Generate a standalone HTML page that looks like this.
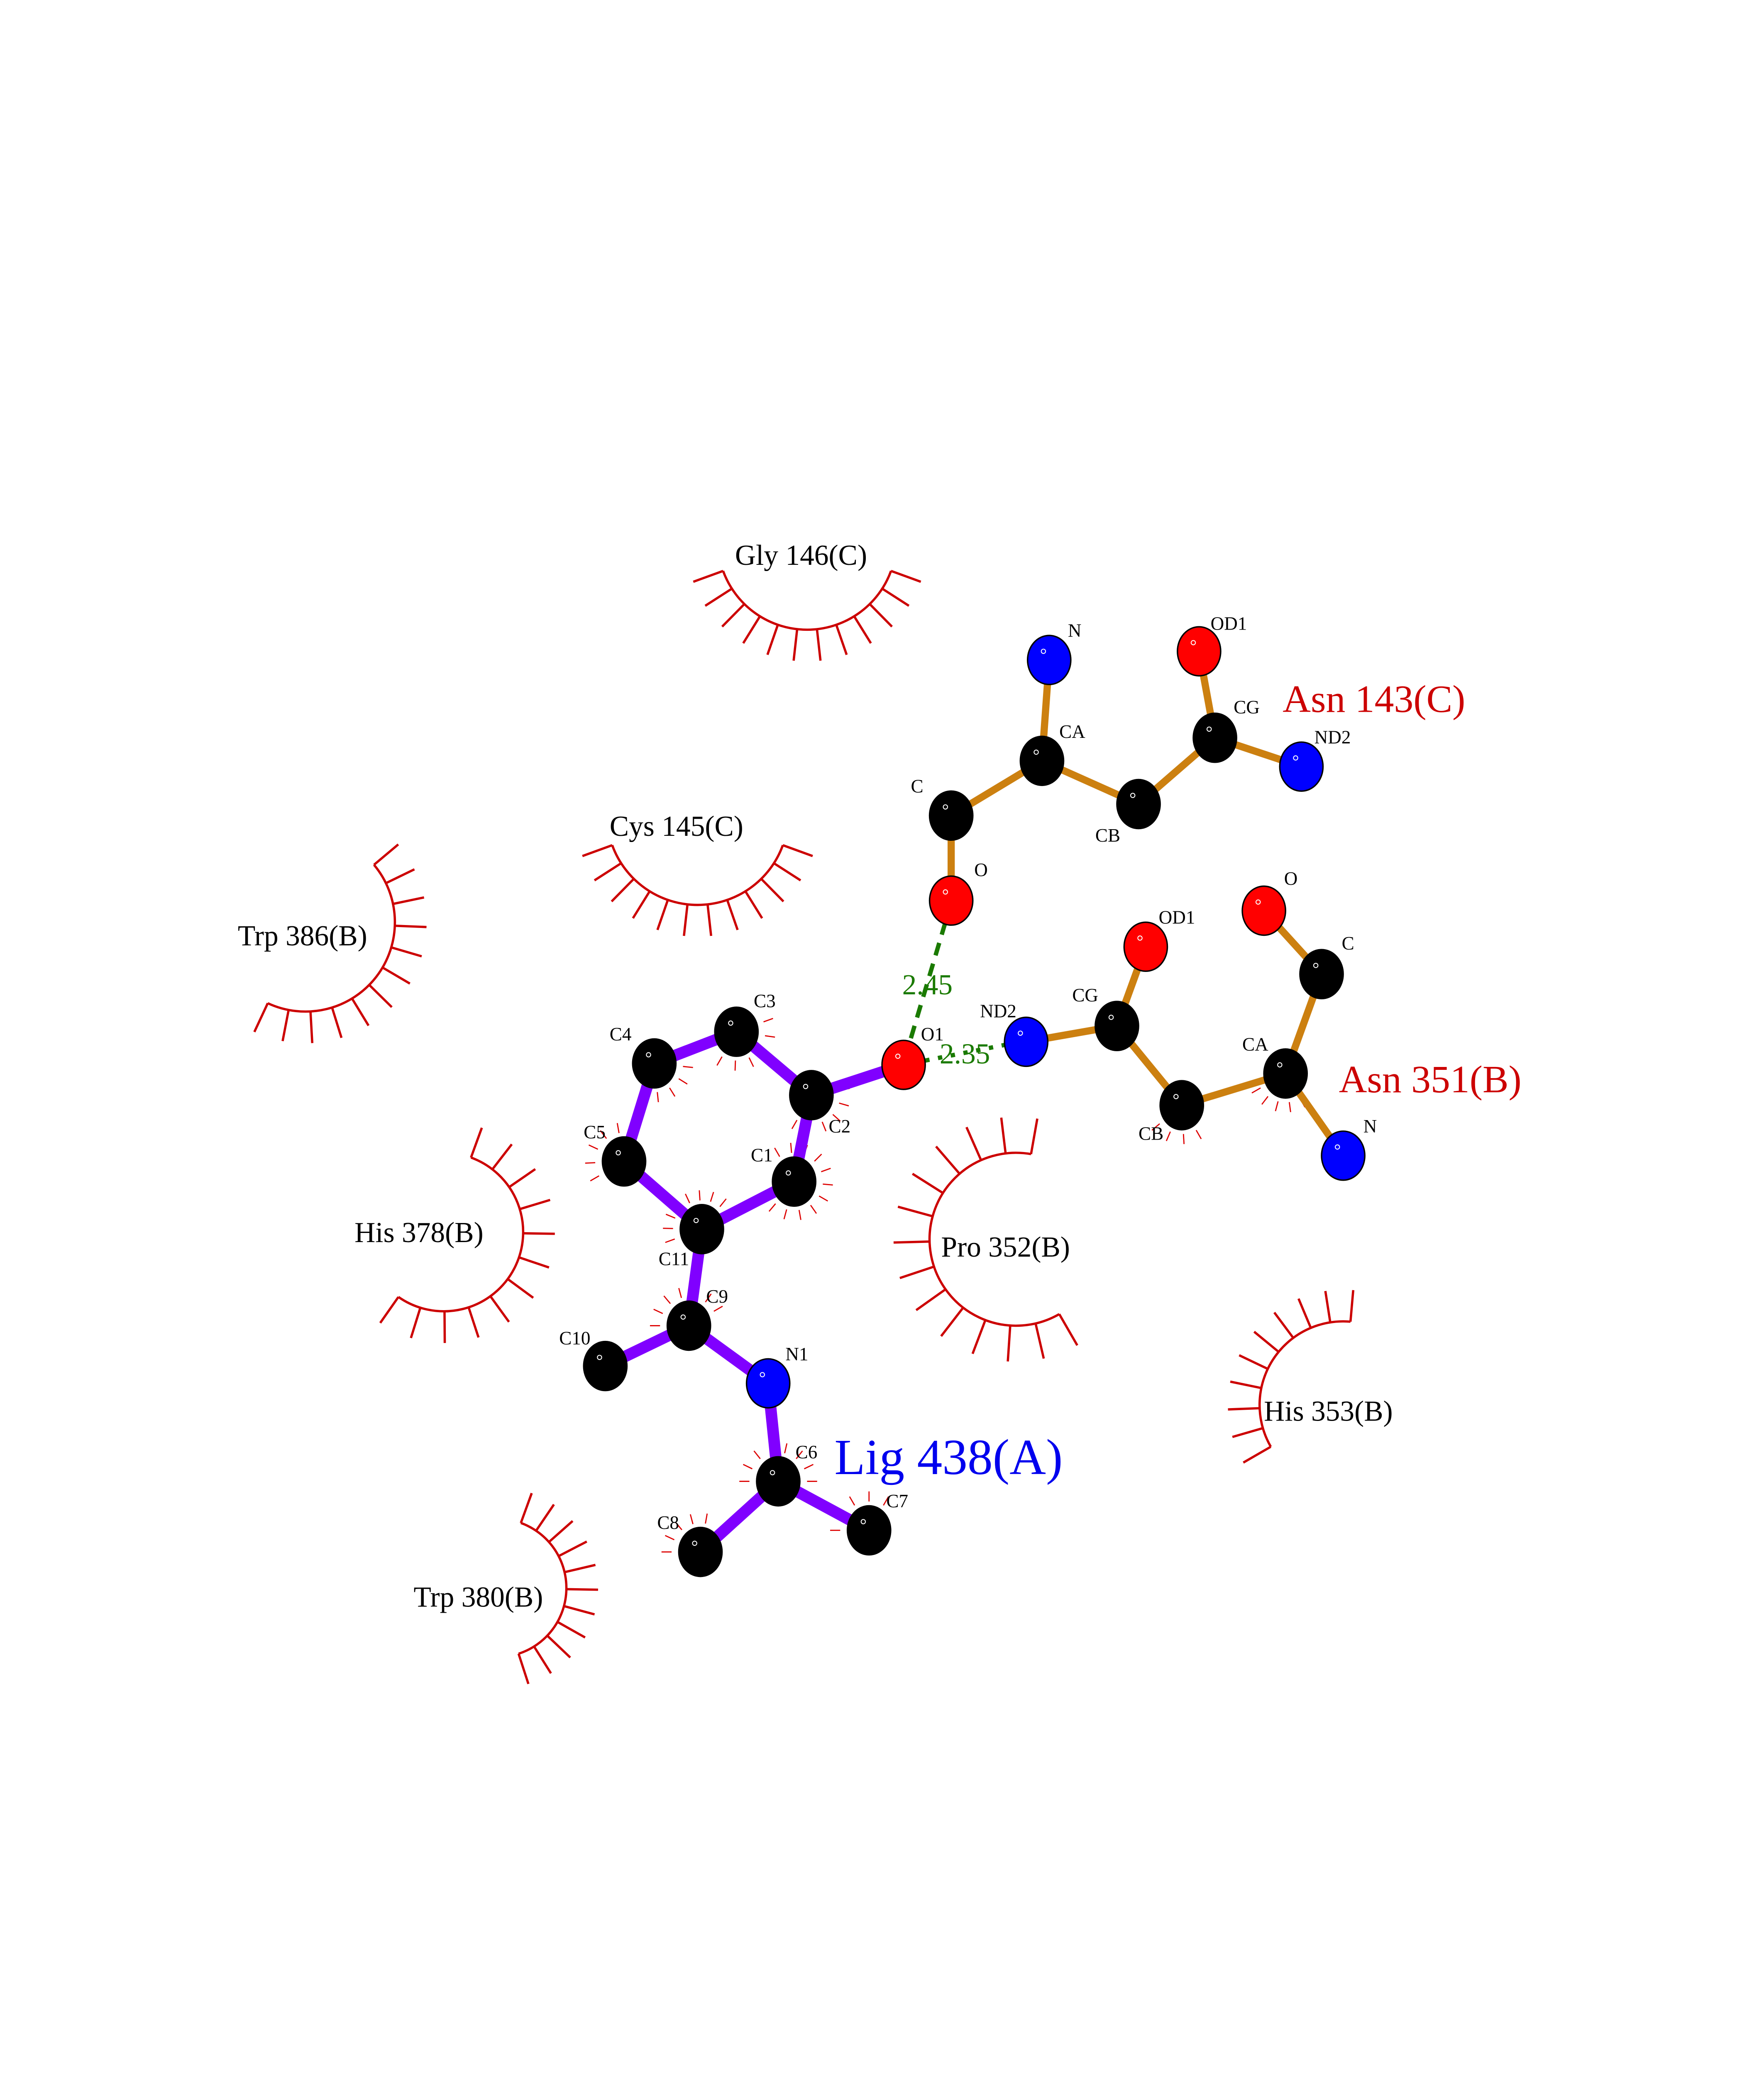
<!DOCTYPE html>
<html><head><meta charset="utf-8"><style>html,body{margin:0;padding:0;background:#fff;overflow:hidden;width:4250px;height:5500px}svg{display:block}</style></head>
<body>
<svg id="s" xmlns="http://www.w3.org/2000/svg" width="4250" height="5500" viewBox="0 0 1224 1584" font-family="'Liberation Serif', serif">
<rect width="1224" height="1584" fill="#fff"/>
<g id="arcs" stroke="#cc0000" fill="none" stroke-width="1.6"></g>
<g id="rays" stroke="#dd0000" stroke-width="0.8"></g>
<g id="bonds" stroke-linecap="butt"></g>
<g stroke="#1a7a00" stroke-width="3" stroke-dasharray="9,6" fill="none">
<line x1="656" y1="640" x2="631" y2="724"/>
<line x1="642" y1="736" x2="698" y2="725" stroke-dasharray="3,6"/>
</g>
<g id="atoms"></g>
<g font-size="20" fill="#1a7a00"><text x="626" y="690">2.45</text><text x="652" y="738">2.35</text></g>
<g font-size="13" fill="#000" id="alabels"></g>
<g font-size="20" fill="#000">
<text x="510" y="392">Gly 146(C)</text>
<text x="423" y="580">Cys 145(C)</text>
<text x="165" y="656">Trp 386(B)</text>
<text x="246" y="862">His 378(B)</text>
<text x="653" y="872">Pro 352(B)</text>
<text x="877" y="986">His 353(B)</text>
<text x="287" y="1115">Trp 380(B)</text>
</g>
<text x="890" y="494" font-size="27" fill="#cc0000">Asn 143(C)</text>
<text x="929" y="758" font-size="27" fill="#cc0000">Asn 351(B)</text>
<text x="579" y="1023" font-size="35" fill="#0000ee">Lig 438(A)</text>
<text x="58" y="1472" font-size="14">.</text>
</svg>
<script>
var NS="http://www.w3.org/2000/svg";
function el(p,t,a){var e=document.createElementNS(NS,t);for(var k in a)e.setAttribute(k,a[k]);document.getElementById(p).appendChild(e);return e;}
var A={
n1:[728,458,'b','N',741,442],ca1:[723,528,'k','CA',735,512],c1:[660,566,'k','C',632,550],o1:[660,625,'r','O',676,608],cb1:[790,558,'k','CB',760,584],cg1:[843,512,'k','CG',856,495],od11:[832,452,'r','OD1',840,437],nd21:[903,532,'b','ND2',912,516],
o2:[877,632,'r','O',891,614],c2:[917,676,'k','C',931,659],ca2:[892,745,'k','CA',862,729],cb2:[820,767,'k','CB',790,791],cg2:[775,712,'k','CG',744,695],od12:[795,657,'r','OD1',804,641],nd22:[712,723,'b','ND2',680,706],n2:[932,802,'b','N',946,786],
O1:[627,739,'r','O1',639,722],C2:[563,760,'k','C2',575,786],C3:[511,716,'k','C3',523,699],C4:[454,738,'k','C4',423,722],C5:[433,806,'k','C5',405,790],C1:[551,820,'k','C1',521,806],C11:[487,853,'k','C11',457,878],C9:[478,920,'k','C9',490,904],C10:[420,948,'k','C10',388,933],N1:[533,960,'b','N1',545,944],C6:[540,1028,'k','C6',552,1012],C8:[486,1077,'k','C8',456,1061],C7:[603,1062,'k','C7',615,1046]};
var PB=[['O1','C2'],['C2','C3'],['C3','C4'],['C4','C5'],['C5','C11'],['C11','C1'],['C1','C2'],['C11','C9'],['C9','C10'],['C9','N1'],['N1','C6'],['C6','C8'],['C6','C7']];
var OB=[['n1','ca1'],['ca1','c1'],['c1','o1'],['ca1','cb1'],['cb1','cg1'],['cg1','od11'],['cg1','nd21'],['o2','c2'],['c2','ca2'],['ca2','cb2'],['cb2','cg2'],['cg2','od12'],['cg2','nd22'],['ca2','n2']];
PB.forEach(function(b){var a=A[b[0]],c=A[b[1]];el('bonds','line',{x1:a[0],y1:a[1],x2:c[0],y2:c[1],stroke:'#8000ff','stroke-width':8});});
OB.forEach(function(b){var a=A[b[0]],c=A[b[1]];el('bonds','line',{x1:a[0],y1:a[1],x2:c[0],y2:c[1],stroke:'#cc8010','stroke-width':5});});
var col={k:'#000',r:'#ff0000',b:'#0000ff'};
for(var k in A){var a=A[k];el('atoms','ellipse',{cx:a[0],cy:a[1],rx:15,ry:17,fill:col[a[2]],stroke:'#000','stroke-width':1});
el('atoms','circle',{cx:a[0]-4,cy:a[1]-6,r:1.5,fill:'none',stroke:'#fff','stroke-width':0.6});
var t=el('alabels','text',{x:a[4],y:a[5]});t.textContent=a[3];}
function rays(k,a0,a1,n){var a=A[k];for(var i=0;i<n;i++){var t=(a0+(a1-a0)*i/(n-1))*Math.PI/180;el('rays','line',{x1:a[0]+20*Math.cos(t),y1:a[1]+20*Math.sin(t),x2:a[0]+27*Math.cos(t),y2:a[1]+27*Math.sin(t)});}}
rays('C3',-20,120,6);rays('C4',-20,110,6);rays('C2',-10,120,6);rays('C1',-120,130,11);rays('C5',150,260,5);rays('C11',160,330,9);rays('C9',180,330,7);rays('C6',180,360,8);rays('C8',180,280,5);rays('C7',180,300,5);rays('ca2',60,150,5);rays('cb2',60,140,4);
function lash(cx,cy,r,a0,a1,n,len){var p0=[cx+r*Math.cos(a0*Math.PI/180),cy+r*Math.sin(a0*Math.PI/180)],p1=[cx+r*Math.cos(a1*Math.PI/180),cy+r*Math.sin(a1*Math.PI/180)];
var large=Math.abs(a1-a0)>180?1:0,sw=a1>a0?1:0;el('arcs','path',{d:'M'+p0+' A'+r+' '+r+' 0 '+large+' '+sw+' '+p1});
for(var i=0;i<n;i++){var t=(a0+(a1-a0)*i/(n-1))*Math.PI/180;el('arcs','line',{x1:cx+r*Math.cos(t),y1:cy+r*Math.sin(t),x2:cx+(r+len)*Math.cos(t),y2:cy+(r+len)*Math.sin(t)});}}
lash(560,375,62,20,160,12,22);
lash(484,565,63,20,160,12,22);
lash(212,640,62,-40,115,12,22);
lash(308,855,55,-70,125,12,22);
lash(705,860,60,-80,-300,14,25);
lash(932,975,58,150,275,10,22);
lash(345,1102,48,-70,72,11,22);
</script>
</body></html>
